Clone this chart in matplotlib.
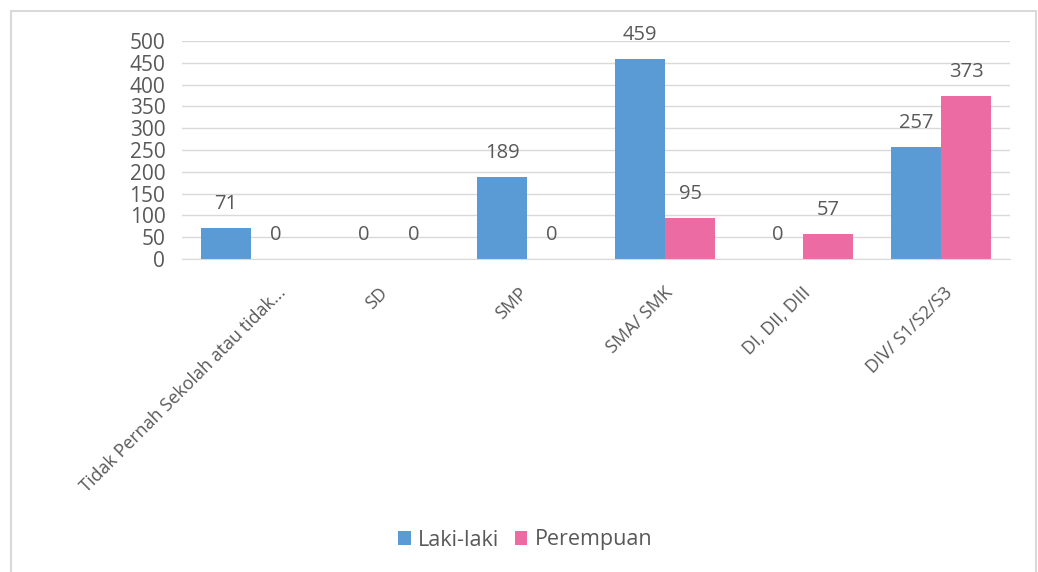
import numpy as np
import matplotlib
matplotlib.use("Agg")
import matplotlib.pyplot as plt
from matplotlib.patches import Rectangle
from matplotlib.transforms import Affine2D

plt.rcParams["font.family"] = ["Open Sans", "DejaVu Sans"]

categories = ["Tidak Pernah Sekolah atau tidak...", "SD", "SMP", "SMA/ SMK",
              "DI, DII, DIII", "DIV/ S1/S2/S3"]
laki = [71, 0, 189, 459, 0, 257]
perempuan = [0, 0, 0, 95, 57, 373]
series_names = ["Laki-laki", "Perempuan"]
yticks = [0, 50, 100, 150, 200, 250, 300, 350, 400, 450, 500]

BLUE = "#5b9bd5"
PINK = "#ec6ba2"
TXT = "#595959"
GRID = "#d9d9d9"

fig = plt.figure(figsize=(10.38, 5.72), dpi=100)
# light frame round the chart (bottom edge falls outside the picture)
fig.patches.append(Rectangle((11 / 1038, -0.05), 1025 / 1038, 1 - 11 / 572 + 0.05,
                             transform=fig.transFigure, fill=False,
                             edgecolor="#d9d9d9", linewidth=1.5))

ax = fig.add_axes([182 / 1038, 1 - 259 / 572, (1010 - 182) / 1038, (259 - 41) / 572])

x = np.arange(len(categories))
w = 50 / 138
b1 = ax.bar(x - w / 2, laki, w, color=BLUE, label=series_names[0], zorder=2)
b2 = ax.bar(x + w / 2, perempuan, w, color=PINK, label=series_names[1], zorder=2)

for bars in (b1, b2):
    for r in bars:
        h = r.get_height()
        ax.annotate(f"{int(h)}", (r.get_x() + r.get_width() / 2, h),
                    xytext=(0, 10), textcoords="offset points",
                    ha="center", va="bottom", fontsize=14.5, color=TXT)

ax.set_xlim(-0.5, len(categories) - 0.5)
ax.set_ylim(0, 500)
ax.set_yticks(yticks)
ax.yaxis.grid(True, color=GRID, linewidth=1, zorder=0)
ax.set_axisbelow(True)
for s in ("top", "right", "left"):
    ax.spines[s].set_visible(False)
ax.spines["bottom"].set_color(GRID)
ax.tick_params(axis="both", length=0, colors=TXT)
ax.tick_params(axis="y", labelsize=15, pad=12)
ax.set_xticks(x)
ax.set_xticklabels([])

# category labels, rotated; Excel pushes longer labels a bit to the right
cat_texts = []
for i, c in enumerate(categories):
    t = ax.text(i, 0, c, transform=ax.get_xaxis_transform(), rotation=45,
                ha="right", va="center", rotation_mode="anchor",
                fontsize=13, color=TXT)
    cat_texts.append(t)
fig.canvas.draw()
for t in cat_texts:
    bw = t.get_window_extent().width
    dx = 0.2 * bw - 10
    t.set_transform(ax.get_xaxis_transform() + Affine2D().translate(dx, -31))

fig.legend(handles=[b1, b2], labels=series_names, loc="center",
           bbox_to_anchor=(0.506, 1 - 540 / 572), ncol=2, frameon=False,
           fontsize=15.5, handlelength=0.6, handleheight=0.6,
           handletextpad=0.35, columnspacing=0.7, labelcolor=TXT)

fig.savefig("out.png", dpi=100, facecolor="white")
